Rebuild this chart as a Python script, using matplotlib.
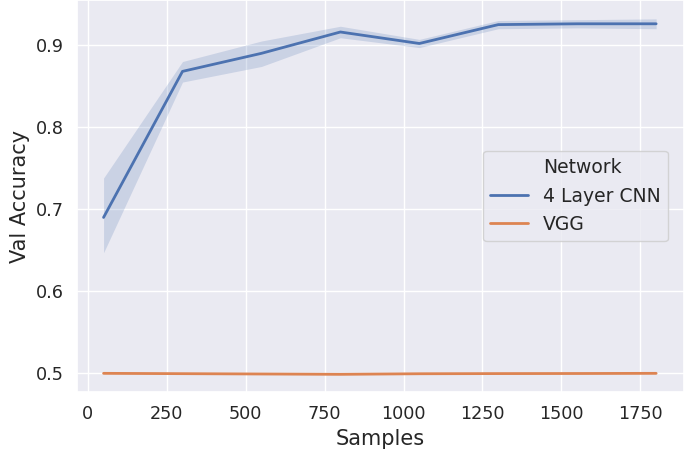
import numpy as np
import matplotlib
matplotlib.use("Agg")
import matplotlib.pyplot as plt
import seaborn as sns
from matplotlib.lines import Line2D

sns.set_theme(style="darkgrid")
plt.rcParams['font.family'] = ['DejaVu Sans']

# data
samples = [50, 300, 550, 800, 1050, 1300, 1550, 1800]
cnn_mean = [0.690, 0.868, 0.890, 0.916, 0.902, 0.925, 0.926, 0.926]
cnn_low = [0.647, 0.855, 0.874, 0.909, 0.897, 0.920, 0.921, 0.920]
cnn_high = [0.738, 0.880, 0.905, 0.923, 0.907, 0.930, 0.931, 0.932]
vgg_mean = [0.5000, 0.4996, 0.4992, 0.4988, 0.4995, 0.4997, 0.4998, 0.5000]
vgg_low = [0.4995, 0.4991, 0.4987, 0.4983, 0.4990, 0.4992, 0.4993, 0.4995]
vgg_high = [0.5005, 0.5001, 0.4997, 0.4993, 0.5000, 0.5002, 0.5003, 0.5005]
labels = ["4 Layer CNN", "VGG"]

pal = sns.color_palette()
c_blue, c_orange = pal[0], pal[1]

fig = plt.figure(figsize=(6.85, 4.55), dpi=100)
ax = fig.add_axes([0.112, 0.138, 0.886, 0.862])

ax.fill_between(samples, cnn_low, cnn_high, color=c_blue, alpha=0.2, linewidth=0)
ax.plot(samples, cnn_mean, color=c_blue, lw=2)
ax.fill_between(samples, vgg_low, vgg_high, color=c_orange, alpha=0.2, linewidth=0)
ax.plot(samples, vgg_mean, color=c_orange, lw=2)

ax.set_xlim(-35, 1887)
ax.set_ylim(0.477, 0.955)
ax.set_xticks([0, 250, 500, 750, 1000, 1250, 1500, 1750])
ax.set_yticks([0.5, 0.6, 0.7, 0.8, 0.9])
ax.tick_params(labelsize=12.7)
ax.set_xlabel("Samples", fontsize=15)
ax.set_ylabel("Val Accuracy", fontsize=15)

handles = [Line2D([], [], color="none"),
           Line2D([], [], color=c_blue, lw=2),
           Line2D([], [], color=c_orange, lw=2)]
ax.legend(handles, ["Network"] + labels, loc="center right",
          bbox_to_anchor=(0.99, 0.50), fontsize=13.5)

fig.savefig("out.png", dpi=100)
